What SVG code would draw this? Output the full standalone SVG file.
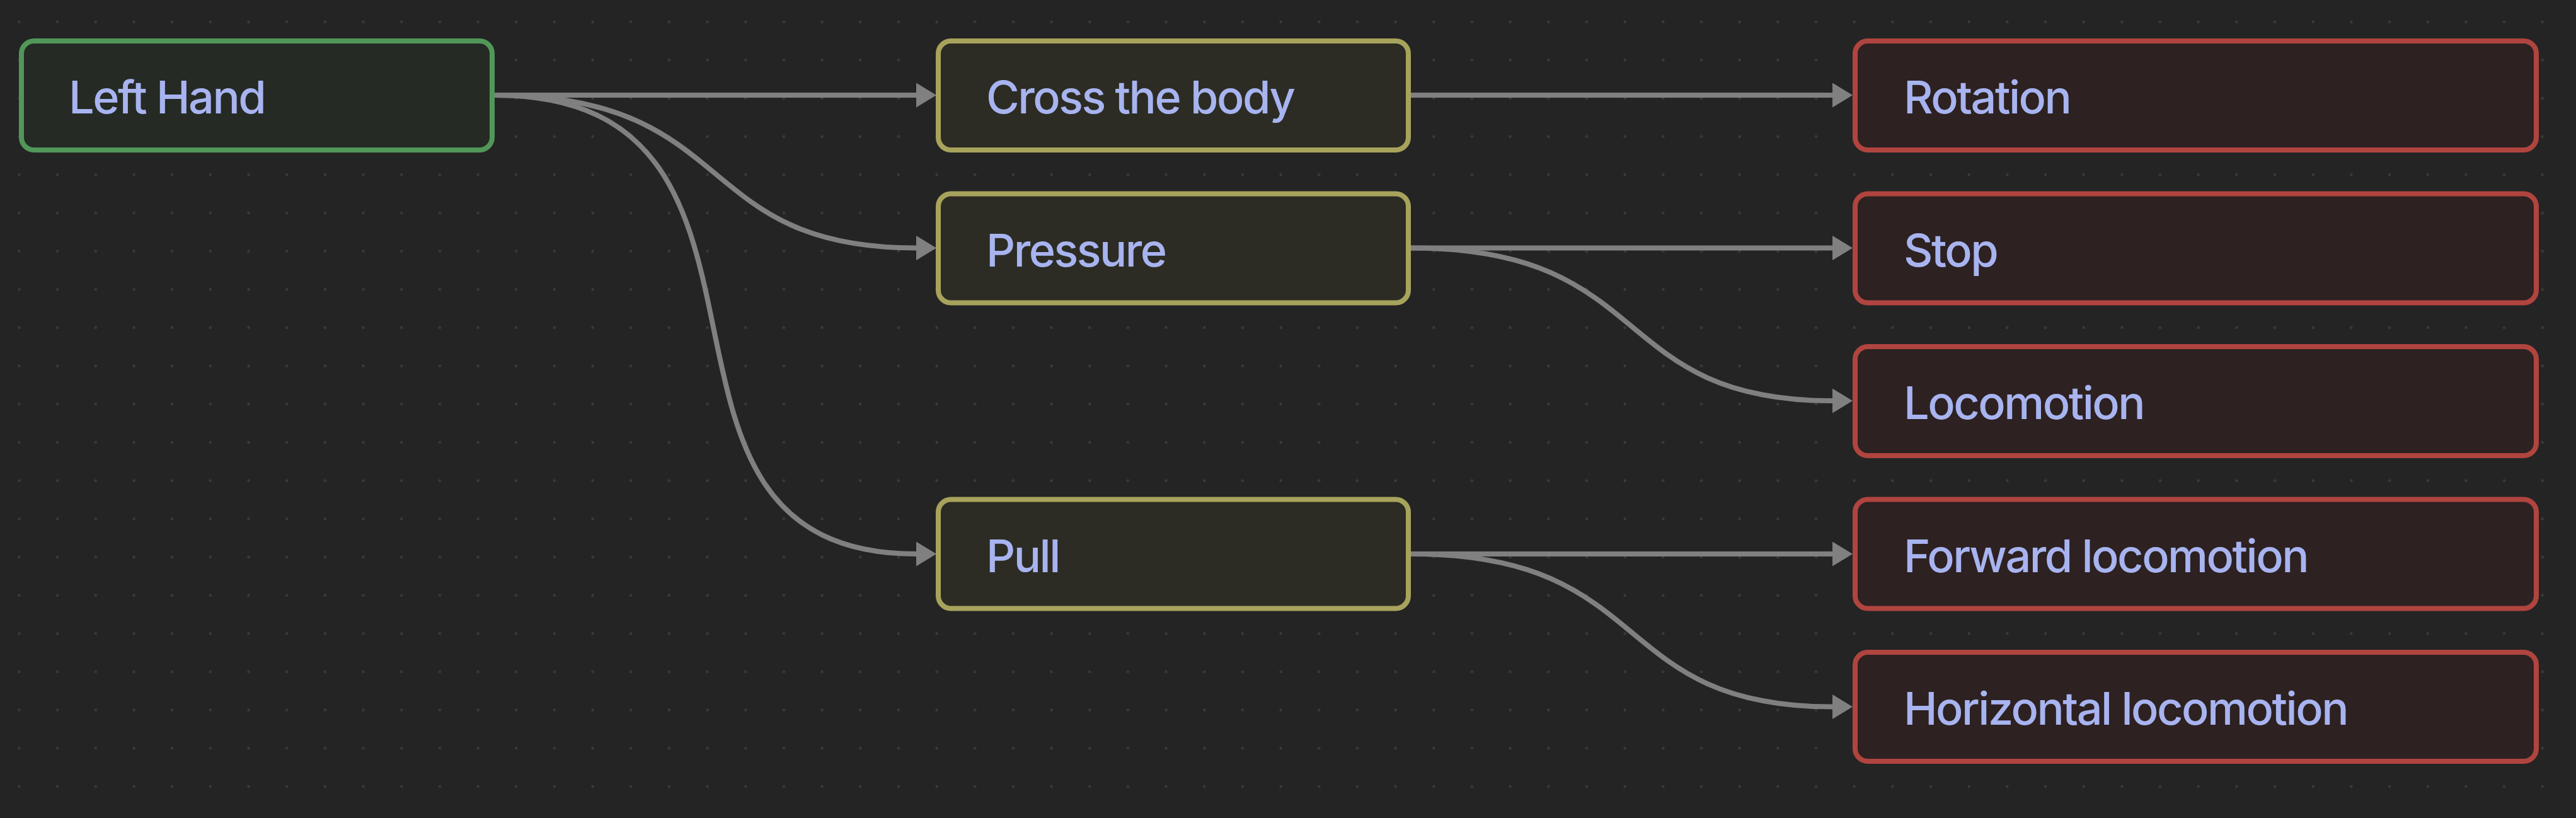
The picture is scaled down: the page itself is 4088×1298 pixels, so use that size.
<svg xmlns="http://www.w3.org/2000/svg" width="4088" height="1298" viewBox="0 0 4088 1298">
<style>
.bg{fill:#242424}
.n rect{stroke-width:8}
.g rect{fill:#252a24;stroke:#52975a}
.y rect{fill:#2c2c24;stroke:#a8a35c}
.r rect{fill:#2d2121;stroke:#b0443f}
.n text{font-family:Inter,"Liberation Sans",sans-serif;font-size:72px;font-weight:500;fill:#a8b4f0;letter-spacing:-2.5px}
.e path{fill:none;stroke:#808080;stroke-width:8}
</style>
<defs>
<pattern id="dots" patternUnits="userSpaceOnUse" x="0" y="4" width="60.67" height="60.67">
<circle cx="30.5" cy="30.5" r="2.2" fill="#3b3b3b"/>
</pattern>
<marker id="arr" markerUnits="userSpaceOnUse" markerWidth="34" markerHeight="40" refX="0" refY="19.5" orient="auto" viewBox="0 0 34 40">
<path d="M0,0 L32,19.5 L0,39 z" fill="#808080"/>
</marker>
</defs>
<rect class="bg" x="0" y="0" width="4088" height="1298"/>
<rect x="0" y="0" width="4088" height="1298" fill="url(#dots)"/>
<g id="edges" class="e">
<path d="M785,151 L1454,151" marker-end="url(#arr)"/>
<path d="M785,151 C1177,151 1093,393.5 1454,393.5" marker-end="url(#arr)"/>
<path d="M785,151 C1320,151 950,879 1454,879" marker-end="url(#arr)"/>
<path d="M2239,151 L2908,151" marker-end="url(#arr)"/>
<path d="M2239,393.5 L2908,393.5" marker-end="url(#arr)"/>
<path d="M2239,393.5 C2631,393.5 2548,636 2908,636" marker-end="url(#arr)"/>
<path d="M2239,879 L2908,879" marker-end="url(#arr)"/>
<path d="M2239,879 C2631,879 2548,1121.5 2908,1121.5" marker-end="url(#arr)"/>
</g>
<g id="left-hand" class="n g"><rect x="34" y="65" width="747" height="173" rx="20"/><text x="109" y="180">Left Hand</text></g>
<g id="cross-the-body" class="n y"><rect x="1489" y="65" width="746" height="173" rx="20"/><text x="1565" y="180">Cross the body</text></g>
<g id="pressure" class="n y"><rect x="1489" y="307.5" width="746" height="173" rx="20"/><text x="1565" y="422.5">Pressure</text></g>
<g id="pull" class="n y"><rect x="1489" y="792.5" width="746" height="173" rx="20"/><text x="1565" y="907.5">Pull</text></g>
<g id="rotation" class="n r"><rect x="2944" y="65" width="1081" height="173" rx="20"/><text x="3021" y="180">Rotation</text></g>
<g id="stop" class="n r"><rect x="2944" y="307.5" width="1081" height="173" rx="20"/><text x="3021" y="422.5">Stop</text></g>
<g id="locomotion" class="n r"><rect x="2944" y="550" width="1081" height="173" rx="20"/><text x="3021" y="665">Locomotion</text></g>
<g id="forward-locomotion" class="n r"><rect x="2944" y="792.5" width="1081" height="173" rx="20"/><text x="3021" y="907.5">Forward locomotion</text></g>
<g id="horizontal-locomotion" class="n r"><rect x="2944" y="1035" width="1081" height="173" rx="20"/><text x="3021" y="1150">Horizontal locomotion</text></g>
</svg>
